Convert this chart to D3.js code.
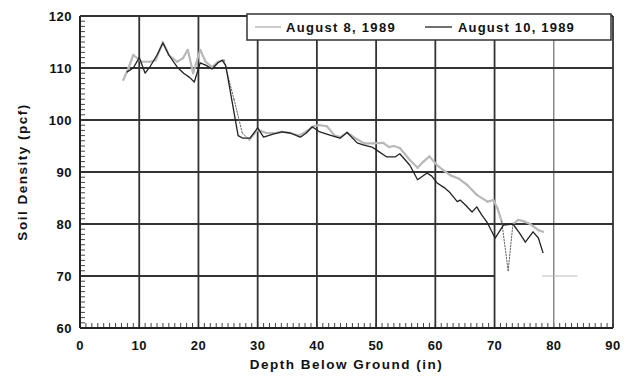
<!DOCTYPE html>
<html><head><meta charset="utf-8">
<script src="https://cdn.jsdelivr.net/npm/d3@7"></script>
<style>body{margin:0;background:#fff}svg{display:block}text{font-family:"Liberation Sans",Arial,sans-serif;font-weight:bold;fill:#111}</style>
</head><body><svg id="c" width="628" height="376"></svg>
<script>
const xTicks = [0,10,20,30,40,50,60,70,80,90];
const yTicks = [60,70,80,90,100,110,120];
const seriesNames = ["August 8, 1989","August 10, 1989"];
const aug8Depth = [7.3,8.2,9,10.4,11.8,12.8,14,15,16.4,17.4,18.2,19.1,20.3,21.2,22.3,23.3,24.3,26,27.4,28.6,30,31.5,33,34.1,35.5,37,38.5,39.5,40.4,41.7,43,44,45.1,46.5,48,49.5,51.2,52.2,53,54,55.7,57,58,59,60.3,61.5,62.5,64,65.4,67,68.8,69.8,70.5,71.2,72.3,73.1,74,75,76,77.4,78.2];
const aug8Density = [107.7,110,112.5,111.2,111.2,111.5,115,112.5,111.2,111.9,113.5,109,113.5,111.2,110.2,111.2,111.5,104,97.5,96.2,98.1,97.5,97.5,97.7,97.5,97,98,98.8,99,98.8,97,96.7,97.6,96.5,95.5,95.5,95.6,94.8,95,94.6,92.3,90.8,92,93,91.3,90.2,89.4,88.7,87.5,85.6,84.3,84.6,83,80.5,71,80,80.8,80.5,80,78.8,78.5];
const aug8DottedRanges = [[24.3,28.6],[71.2,73.1]];
const aug10Depth = [7.9,9,10,11,11.8,13,14,15,16.4,17.5,18.5,19.3,20.3,21.3,22.3,23.3,24,24.6,26.7,27.5,28.7,30,31,32.6,34.1,35.5,37.2,38.2,39.2,40.5,42.2,43.9,45.1,46.8,47.8,49.3,50.1,51.8,53.2,54,55.7,57,58.6,59.4,60.3,61.5,62.5,63.7,64.2,65.2,66.2,67,67.8,68.8,70.1,71.5,73.1,74.2,75.2,76.5,77.4,78.2];
const aug10Density = [109.2,110,112,109,110.2,112.5,114.8,112.5,110.2,109,108.2,107.3,111,110.5,109.8,111,111.5,110.5,97,96.5,96.5,98.5,96.7,97.3,97.7,97.5,96.7,97.5,98.7,97.7,97.1,96.5,97.6,95.6,95.2,94.8,94.2,92.9,92.9,93.5,91.3,88.5,89.8,89.2,87.9,87,86,84.3,84.6,83.5,82.3,83.3,81.8,80.2,77.3,79.8,80,78.3,76.5,78.5,77.3,74.4];

const svg = d3.select("#c");
const L=80,R=613,T=16,B=328;
const x = d3.scaleLinear().domain([0,90]).range([L,R]);
const y = d3.scaleLinear().domain([60,120]).range([B,T]);
const g = svg.append("g");

// minor ticks
const minorX = d3.range(0,91,1);
g.selectAll(".mx").data(minorX).join("line")
  .attr("x1",d=>x(d)).attr("x2",d=>x(d)).attr("y1",B).attr("y2",B-5)
  .attr("stroke","#444").attr("stroke-width",1);
const minorY = d3.range(60,121,1);
g.selectAll(".my").data(minorY).join("line")
  .attr("x1",L).attr("x2",L+5).attr("y1",d=>y(d)).attr("y2",d=>y(d))
  .attr("stroke","#444").attr("stroke-width",1);

// vertical gridlines
g.selectAll(".vg").data(xTicks.filter(d=>d>0)).join("line")
  .attr("x1",d=>x(d)).attr("x2",d=>x(d)).attr("y1",T).attr("y2",B)
  .attr("stroke",d=>d===80?"#777":"#333").attr("stroke-width",d=>d===80?1.3:1.8);
// horizontal gridlines
g.selectAll(".hg").data(yTicks.filter(d=>d>60)).join("line")
  .attr("x1",L).attr("x2",d=>d===70?x(70):R).attr("y1",d=>y(d)).attr("y2",d=>y(d))
  .attr("stroke","#333").attr("stroke-width",1.8);
g.append("line").attr("x1",x(78)).attr("x2",x(84)).attr("y1",y(70)).attr("y2",y(70))
  .attr("stroke","#bbb").attr("stroke-width",1.2);
// axes
g.append("line").attr("x1",L).attr("x2",L).attr("y1",T).attr("y2",B).attr("stroke","#222").attr("stroke-width",2);
g.append("line").attr("x1",L).attr("x2",R).attr("y1",B).attr("y2",B).attr("stroke","#222").attr("stroke-width",2);

// tick labels
g.selectAll(".xl").data(xTicks).join("text")
  .attr("x",d=>x(d)).attr("y",350).attr("text-anchor","middle")
  .attr("font-size",13).attr("letter-spacing",0.4).text(d=>d);
g.selectAll(".yl").data(yTicks).join("text")
  .attr("x",72).attr("y",d=>y(d)+5).attr("text-anchor","end")
  .attr("font-size",13).attr("letter-spacing",0.5).text(d=>d);
svg.append("text").attr("x",(L+R)/2).attr("y",369).attr("text-anchor","middle")
  .attr("font-size",13.5).attr("letter-spacing",1.5).text("Depth Below Ground (in)");
svg.append("text").attr("transform",`translate(27,${(T+B)/2}) rotate(-90)`).attr("text-anchor","middle")
  .attr("font-size",13.5).attr("letter-spacing",1.5).text("Soil Density (pcf)");

// series
const a8 = aug8Depth.map((d,i)=>({x:d,y:aug8Density[i]}));
const a10 = aug10Depth.map((d,i)=>({x:d,y:aug10Density[i]}));
const inDot = (p,q)=>aug8DottedRanges.some(r=>p.x>=r[0]&&q.x<=r[1]);
const line = d3.line().x(d=>x(d.x)).y(d=>y(d.y));
const sg = g.append("g");
for(let i=0;i<a8.length-1;i++){
  const p=a8[i],q=a8[i+1];
  const dotted = inDot(p,q);
  sg.append("path").attr("d",line([p,q])).attr("fill","none")
    .attr("stroke",dotted?"#666":"#b8b8b8").attr("stroke-width",dotted?1:2.2)
    .attr("stroke-dasharray",dotted?"1.5,1.5":null).attr("stroke-linecap","round");
}
sg.append("path").attr("d",line(a10)).attr("fill","none").attr("stroke","#222").attr("stroke-width",1.3).attr("stroke-linejoin","round");

// legend
const lg = svg.append("g");
lg.append("rect").attr("x",247).attr("y",14).attr("width",364).attr("height",26)
  .attr("fill","#fff").attr("stroke","#333").attr("stroke-width",1.5);
lg.append("line").attr("x1",255).attr("x2",281).attr("y1",27).attr("y2",27).attr("stroke","#b8b8b8").attr("stroke-width",1.5);
lg.append("text").attr("x",286).attr("y",32).attr("font-size",13).attr("letter-spacing",1.3).text(seriesNames[0]);
lg.append("line").attr("x1",425).attr("x2",452).attr("y1",27).attr("y2",27).attr("stroke","#222").attr("stroke-width",1.3);
lg.append("text").attr("x",458).attr("y",32).attr("font-size",13).attr("letter-spacing",1.2).text(seriesNames[1]);
// top border
g.append("line").attr("x1",L).attr("x2",247).attr("y1",T).attr("y2",T).attr("stroke","#333").attr("stroke-width",1.5);
</script></body></html>
